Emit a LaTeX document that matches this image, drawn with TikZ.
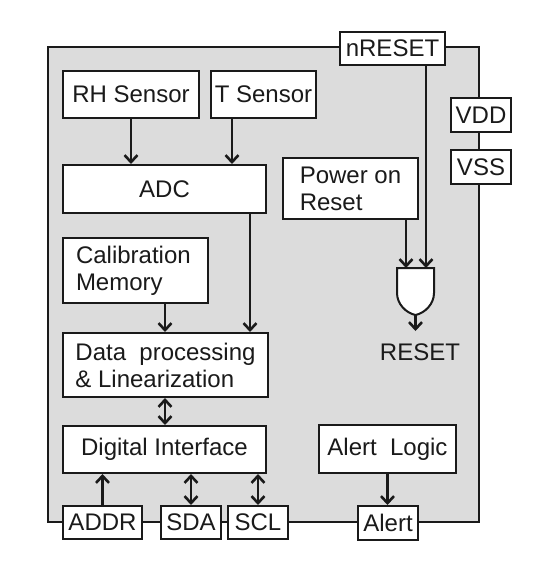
\documentclass[tikz,border=0pt]{standalone}
\usepackage{fontspec}
\setmainfont{Liberation Sans}
\usetikzlibrary{arrows.meta}
\definecolor{chipgray}{HTML}{DCDCDC}
\definecolor{ink}{HTML}{1A1A1A}
\begin{document}
\begin{tikzpicture}[x=1pt,y=-1pt,
  blk/.style={draw=ink, line width=2pt, fill=white, inner sep=0pt, anchor=north west,
    font=\fontsize{24}{27}\selectfont, text=ink, align=left},
  pin/.style={blk, minimum width=60pt, minimum height=34pt},
  arr/.style={draw=ink, line width=2.6pt, -{Straight Barb[length=7pt,width=13pt]}},
  darr/.style={draw=ink, line width=2.6pt, {Straight Barb[length=7pt,width=13pt]}-{Straight Barb[length=7pt,width=13pt]}}]
\useasboundingbox (0,0) rectangle (547,562);
% chip outline
\draw[draw=ink, line width=2pt, fill=chipgray] (48,47) rectangle (479,522);
% blocks
\node[blk, minimum width=136pt, minimum height=47pt] (rh) at (62,70) {RH Sensor};
\node[blk, minimum width=105pt, minimum height=47pt] (ts) at (210,70) {T Sensor};
\node[blk, minimum width=203pt, minimum height=48pt] (adc) at (62,164) {ADC};
\node[blk, minimum width=145pt, minimum height=65pt, text width=119pt, inner xsep=13pt] (cal) at (62,237) {Calibration\\Memory};
\node[blk, minimum width=205pt, minimum height=64pt] (dp) at (62,332) {Data\ \ processing\\\& Linearization};
\node[blk, minimum width=203pt, minimum height=47pt] (di) at (62,425) {Digital Interface};
\node[blk, minimum width=135pt, minimum height=61pt] (por) at (282,157) {Power on\\Reset};
\node[blk, minimum width=137pt, minimum height=48pt] (al) at (318,424) {Alert\ \ Logic};
% pins
\node[pin, minimum width=79pt, minimum height=33pt] (addr) at (62,505) {ADDR};
\node[pin, minimum height=33pt] (sda) at (160,505) {SDA};
\node[pin, minimum height=33pt] (scl) at (227,505) {SCL};
\node[pin] (alert) at (357,505) {Alert};
\node[pin, minimum width=105pt, minimum height=33pt] (nreset) at (339,31) {nRESET};
\node[pin] (vdd) at (450,97) {VDD};
\node[pin] (vss) at (450,149) {VSS};
% AND gate
\coordinate (gA) at (406,268);
\coordinate (gB) at (426,268);
\coordinate (gOut) at (415.5,315);
\coordinate (gEnd) at (415.5,331);
\draw[draw=ink, line width=2pt, fill=white] (397,268) -- (434,268) -- (434,293)
  .. controls (434,304) and (425,313) .. (gOut)
  .. controls (406,313) and (397,304) .. (397,293) -- cycle;
\node[font=\fontsize{24}{27}\selectfont, text=ink] (reset) at (420,352) {RESET};
% connectors
\draw[arr] (rh.south) -- (adc.north -| rh.south);
\draw[arr] ([xshift=22pt]ts.south west) -- ([xshift=22pt]ts.south west |- adc.north);
\draw[arr] ([xshift=-17pt]adc.south east) -- ([xshift=-17pt]adc.south east |- dp.north);
\draw[arr] ([xshift=103pt]cal.south west) -- ([xshift=103pt]cal.south west |- dp.north);
\draw[darr] ([xshift=103pt]dp.south west) -- ([xshift=103pt]dp.south west |- di.north);
\draw[arr] (addr.north) -- (addr.north |- di.south);
\draw[darr] (sda.north) -- (sda.north |- di.south);
\draw[darr] (scl.north) -- (scl.north |- di.south);
\draw[arr] (al.south) -- (al.south |- alert.north);
\draw[arr] (por.south -| gA) -- (gA);
\draw[arr] (nreset.south -| gB) -- (gB);
\draw[arr] (gOut) -- (gEnd);
\end{tikzpicture}
\end{document}
